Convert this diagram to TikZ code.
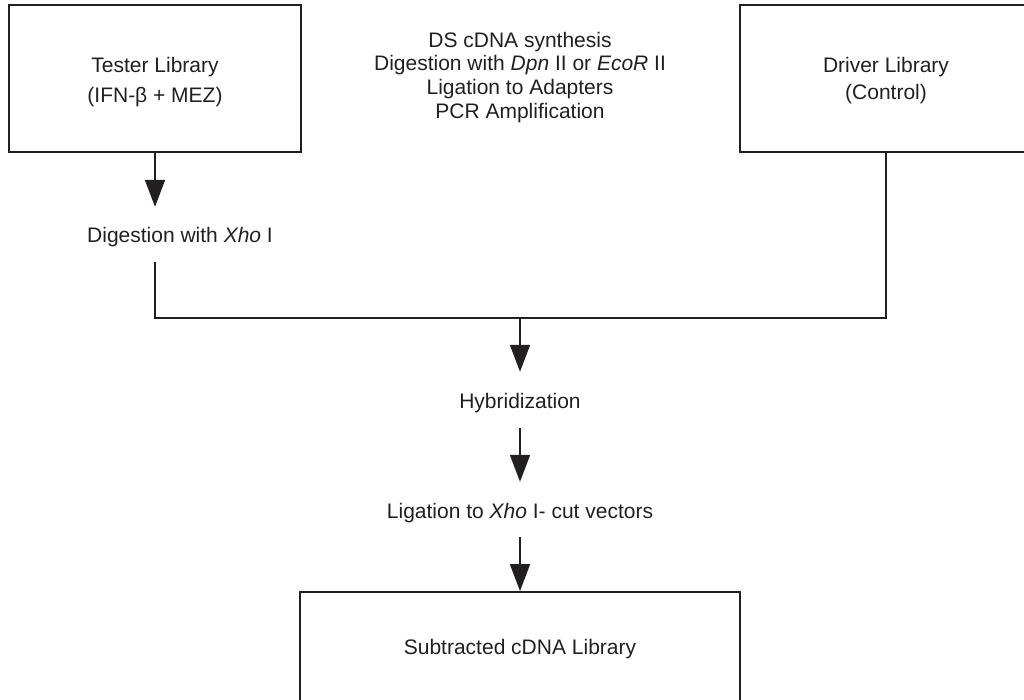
\documentclass[tikz,border=0pt]{standalone}
\usepackage{fontspec}
\setmainfont{Liberation Sans}
\usetikzlibrary{arrows.meta,calc}
\definecolor{ink}{RGB}{35,31,32}
\begin{document}
\begin{tikzpicture}[x=1pt,y=-1pt,
  every node/.style={text=ink, font=\fontsize{21}{24}\selectfont},
  box/.style={draw=ink, line width=1.8pt, minimum width=292pt, minimum height=147pt, inner sep=0pt},
  boxtext/.style={align=center, inner sep=0pt},
  lbl/.style={inner xsep=0pt, inner ysep=0pt, text height=15pt, text depth=4.5pt, anchor=base},
  conn/.style={draw=ink, line width=1.8pt},
  arr/.style={conn, -{Triangle[length=27pt,width=20pt]}}]
\useasboundingbox (0,0) rectangle (1024,700);
\clip (0,0) rectangle (1024,700);

% boxes
\node[box] (tester) at (155,78.5) {};
\node[boxtext, font=\fontsize{21}{30}\selectfont] (testerlbl) at ($(tester.center)+(0,4)$) {Tester Library\\(IFN-β + MEZ)};
\node[box] (driver) at (886,78.5) {};
\node[boxtext, font=\fontsize{21}{27}\selectfont] (driverlbl) at ($(driver.center)+(0,2.5)$) {Driver Library\\(Control)};
\node[boxtext, anchor=north, font=\fontsize{21}{23.7}\selectfont] (steps) at (520,31.7) {DS cDNA synthesis\\Digestion with \textit{Dpn} II or \textit{EcoR} II\\Ligation to Adapters\\PCR Amplification};
\node[box, minimum width=440pt, minimum height=115pt] (sub) at (520,649.5) {Subtracted cDNA Library};

% labels
\node[lbl] (dig) at (180,243) {Digestion with \textit{Xho} I};
\node[lbl] (hyb) at (520,408) {Hybridization};
\node[lbl] (lig) at (520,518) {Ligation to \textit{Xho} I- cut vectors};

% junctions
\coordinate (jl) at (155,318);
\coordinate (jm) at (520,318);
\coordinate (jr) at (886,318);

% connectors
\draw[arr, shorten >=21pt] (tester.south) -- (tester.south |- dig.north);
\draw[conn, shorten <=14.5pt] (tester.south |- dig.south) -- (jl) -- (jr) -- (driver.south);
\draw[arr, shorten >=21pt] (jm) -- (hyb.north);
\draw[arr, shorten <=15.5pt, shorten >=21pt] (hyb.south) -- (lig.north);
\draw[arr, shorten <=14.5pt] (lig.south) -- (sub.north);
\end{tikzpicture}
\end{document}
